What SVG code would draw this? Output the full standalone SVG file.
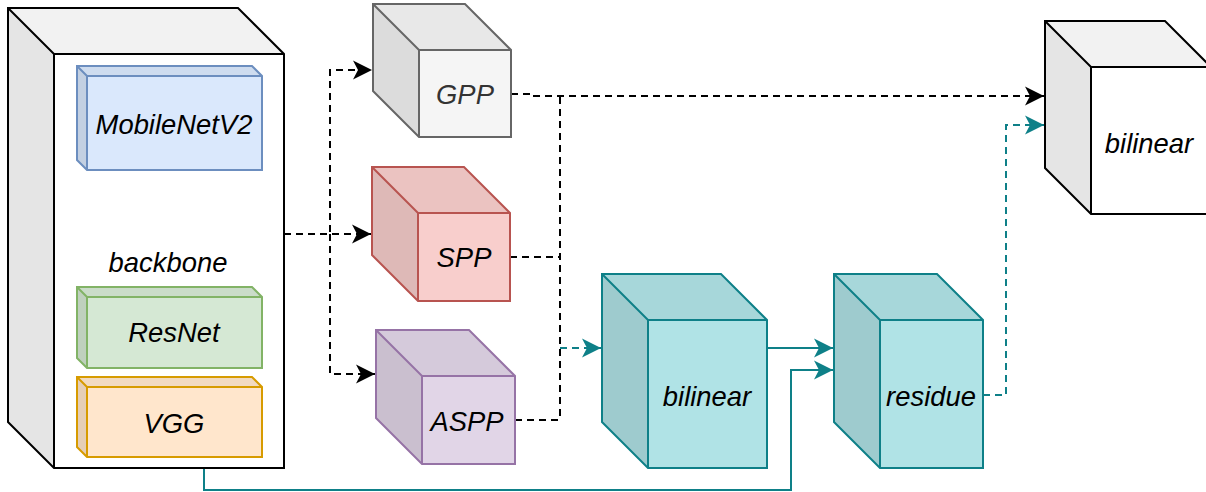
<svg xmlns="http://www.w3.org/2000/svg" width="1206" height="492" viewBox="0 0 1206 492">
  <style>
    .face { stroke: none; }
    .top { fill: #000; fill-opacity: 0.05; stroke: none; }
    .side { fill: #000; fill-opacity: 0.1; stroke: none; }
    .edge { fill: none; stroke-width: 2; stroke-linejoin: miter; }
    .lbl { font-family: "Liberation Sans", Arial, sans-serif; font-style: italic; font-size: 27.4px; text-anchor: middle; fill: #000; }
    .blk { fill: none; stroke: #000; stroke-width: 2; stroke-dasharray: 7 5; }
    .tdash { fill: none; stroke: #0e8088; stroke-width: 2; stroke-dasharray: 7 5; }
    .tsolid { fill: none; stroke: #0e8088; stroke-width: 2; }
  </style>
  <defs>
    <marker id="arrowBlack" markerUnits="userSpaceOnUse" markerWidth="22" markerHeight="22" viewBox="-21 -11 22 22" refX="0" refY="0" orient="auto">
      <path d="M0,0 L-19,-9.5 L-14,0 L-19,9.5 Z" fill="#000"/>
    </marker>
    <marker id="arrowTeal" markerUnits="userSpaceOnUse" markerWidth="22" markerHeight="22" viewBox="-21 -11 22 22" refX="0" refY="0" orient="auto">
      <path d="M0,0 L-19,-9.5 L-14,0 L-19,9.5 Z" fill="#0e8088"/>
    </marker>
  </defs>

  <rect width="1206" height="492" fill="#fff"/>

  <!-- connectors (drawn beneath the blocks) -->
  <g id="connectors">
    <path class="blk" d="M284,234 H330 V70 H372" marker-end="url(#arrowBlack)"/>
    <path class="blk" d="M284,234 H371" marker-end="url(#arrowBlack)"/>
    <path class="blk" d="M330,234 V374 H375" marker-end="url(#arrowBlack)"/>
    <path class="blk" d="M511,94 H533 V96 H1044" marker-end="url(#arrowBlack)"/>
    <path class="blk" d="M510,257 H560"/>
    <path class="blk" d="M515,420 H560"/>
    <path class="blk" d="M560,97 V420"/>
    <path class="tdash" d="M560,348 H601" marker-end="url(#arrowTeal)"/>
    <path class="tsolid" d="M767,348 H833" marker-end="url(#arrowTeal)"/>
    <path class="tsolid" d="M204,468 V490 H791 V370 H833" marker-end="url(#arrowTeal)"/>
    <path class="tdash" d="M983,395 H1006 V125 H1044" marker-end="url(#arrowTeal)"/>
  </g>

  <!-- backbone container cube: x=8 y=8 w=276 h=460 depth=46 -->
  <g id="backbone">
    <path class="face" fill="#ffffff" d="M8,8 H238 L284,54 V468 H54 L8,422 Z"/>
    <path class="top" d="M8,8 H238 L284,54 H54 Z"/>
    <path class="side" d="M8,8 L54,54 V468 L8,422 Z"/>
    <path class="edge" stroke="#000" d="M8,8 H238 L284,54 V468 H54 L8,422 Z M8,8 L54,54 H284 M54,54 V468"/>
    <text class="lbl" x="168" y="272">backbone</text>
  </g>

  <!-- MobileNetV2: x=77 y=66 w=185 h=104 depth=10 -->
  <g id="mobilenetv2">
    <path class="face" fill="#dae8fc" d="M77,66 H252 L262,76 V170 H87 L77,160 Z"/>
    <path class="top" d="M77,66 H252 L262,76 H87 Z"/>
    <path class="side" d="M77,66 L87,76 V170 L77,160 Z"/>
    <path class="edge" stroke="#6c8ebf" d="M77,66 H252 L262,76 V170 H87 L77,160 Z M77,66 L87,76 H262 M87,76 V170"/>
    <text class="lbl" x="174" y="134">MobileNetV2</text>
  </g>

  <!-- ResNet: x=77 y=287 w=185 h=81 depth=10 -->
  <g id="resnet">
    <path class="face" fill="#d5e8d4" d="M77,287 H252 L262,297 V368 H87 L77,358 Z"/>
    <path class="top" d="M77,287 H252 L262,297 H87 Z"/>
    <path class="side" d="M77,287 L87,297 V368 L77,358 Z"/>
    <path class="edge" stroke="#82b366" d="M77,287 H252 L262,297 V368 H87 L77,358 Z M77,287 L87,297 H262 M87,297 V368"/>
    <text class="lbl" x="174" y="342">ResNet</text>
  </g>

  <!-- VGG: x=77 y=377 w=185 h=80 depth=10 -->
  <g id="vgg">
    <path class="face" fill="#ffe6cc" d="M77,377 H252 L262,387 V457 H87 L77,447 Z"/>
    <path class="top" d="M77,377 H252 L262,387 H87 Z"/>
    <path class="side" d="M77,377 L87,387 V457 L77,447 Z"/>
    <path class="edge" stroke="#d79b00" d="M77,377 H252 L262,387 V457 H87 L77,447 Z M77,377 L87,387 H262 M87,387 V457"/>
    <text class="lbl" x="174" y="433">VGG</text>
  </g>

  <!-- GPP: x=373 y=4 w=138 h=133 depth=46 -->
  <g id="gpp">
    <path class="face" fill="#f5f5f5" d="M373,4 H465 L511,50 V137 H419 L373,91 Z"/>
    <path class="top" d="M373,4 H465 L511,50 H419 Z"/>
    <path class="side" d="M373,4 L419,50 V137 L373,91 Z"/>
    <path class="edge" stroke="#666666" d="M373,4 H465 L511,50 V137 H419 L373,91 Z M373,4 L419,50 H511 M419,50 V137"/>
    <text class="lbl" x="465" y="104" style="fill:#333333">GPP</text>
  </g>

  <!-- SPP: x=372 y=167 w=138 h=134 depth=46 -->
  <g id="spp">
    <path class="face" fill="#f8cecc" d="M372,167 H464 L510,213 V301 H418 L372,255 Z"/>
    <path class="top" d="M372,167 H464 L510,213 H418 Z"/>
    <path class="side" d="M372,167 L418,213 V301 L372,255 Z"/>
    <path class="edge" stroke="#b85450" d="M372,167 H464 L510,213 V301 H418 L372,255 Z M372,167 L418,213 H510 M418,213 V301"/>
    <text class="lbl" x="464" y="267">SPP</text>
  </g>

  <!-- ASPP: x=376 y=330 w=139 h=134 depth=46 -->
  <g id="aspp">
    <path class="face" fill="#e1d5e7" d="M376,330 H469 L515,376 V464 H422 L376,418 Z"/>
    <path class="top" d="M376,330 H469 L515,376 H422 Z"/>
    <path class="side" d="M376,330 L422,376 V464 L376,418 Z"/>
    <path class="edge" stroke="#9673a6" d="M376,330 H469 L515,376 V464 H422 L376,418 Z M376,330 L422,376 H515 M422,376 V464"/>
    <text class="lbl" x="467" y="431">ASPP</text>
  </g>

  <!-- bilinear upsampling: x=602 y=274 w=165 h=194 depth=46 -->
  <g id="bilinear-mid">
    <path class="face" fill="#b0e3e6" d="M602,274 H721 L767,320 V468 H648 L602,422 Z"/>
    <path class="top" d="M602,274 H721 L767,320 H648 Z"/>
    <path class="side" d="M602,274 L648,320 V468 L602,422 Z"/>
    <path class="edge" stroke="#0e8088" d="M602,274 H721 L767,320 V468 H648 L602,422 Z M602,274 L648,320 H767 M648,320 V468"/>
    <text class="lbl" x="707" y="406">bilinear</text>
  </g>

  <!-- residue: x=834 y=274 w=149 h=194 depth=46 -->
  <g id="residue">
    <path class="face" fill="#b0e3e6" d="M834,274 H937 L983,320 V468 H880 L834,422 Z"/>
    <path class="top" d="M834,274 H937 L983,320 H880 Z"/>
    <path class="side" d="M834,274 L880,320 V468 L834,422 Z"/>
    <path class="edge" stroke="#0e8088" d="M834,274 H937 L983,320 V468 H880 L834,422 Z M834,274 L880,320 H983 M880,320 V468"/>
    <text class="lbl" x="931" y="406">residue</text>
  </g>

  <!-- final bilinear output: x=1045 y=21 w=166 h=193 depth=46 -->
  <g id="bilinear-out">
    <path class="face" fill="#ffffff" d="M1045,21 H1165 L1211,67 V214 H1091 L1045,168 Z"/>
    <path class="top" d="M1045,21 H1165 L1211,67 H1091 Z"/>
    <path class="side" d="M1045,21 L1091,67 V214 L1045,168 Z"/>
    <path class="edge" stroke="#000" d="M1045,21 H1165 L1211,67 V214 H1091 L1045,168 Z M1045,21 L1091,67 H1211 M1091,67 V214"/>
    <text class="lbl" x="1149" y="153">bilinear</text>
  </g>
</svg>
